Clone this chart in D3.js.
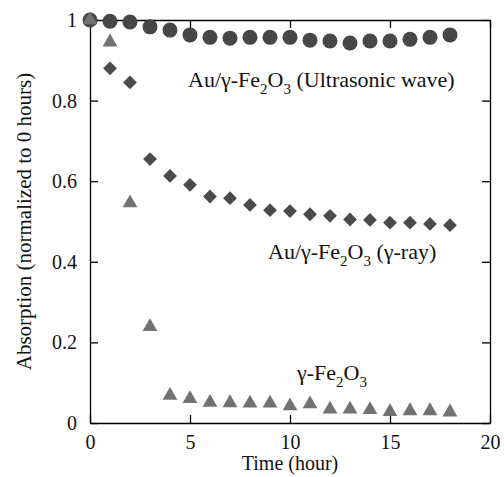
<!DOCTYPE html>
<html lang="en">
<head>
  <meta charset="UTF-8">
  <title>Absorption vs time</title>
  <script src="https://d3js.org/d3.v7.min.js"></script>
  <style>
    body {
      margin: 0;
      background: #ffffff;
    }
    svg {
      display: block;
      font-family: "Liberation Serif", "DejaVu Serif", "Times New Roman", serif;
    }
    .axis path, .axis line {
      stroke: #000;
      stroke-width: 1.3;
    }
    .axis text {
      font-family: "Liberation Serif", "DejaVu Serif", "Times New Roman", serif;
      font-size: 20px;
      fill: #111;
    }
    .label {
      fill: #111;
    }
  </style>
</head>
<body>
  <svg width="504" height="477"></svg>

  <script>
    // data
    const hours = d3.range(0, 19);
    const ultrasonic = [1.0, 0.997, 0.995, 0.983, 0.975, 0.963, 0.957, 0.955, 0.957, 0.957,
                        0.957, 0.950, 0.948, 0.943, 0.948, 0.948, 0.952, 0.957, 0.963];
    const gammaHours = d3.range(1, 19);
    const gammaRay = [0.880, 0.845, 0.655, 0.613, 0.591, 0.562, 0.558, 0.541, 0.528, 0.526,
                      0.518, 0.514, 0.505, 0.504, 0.497, 0.497, 0.494, 0.491];
    const bare = [1.0, 0.945, 0.546, 0.239, 0.068, 0.060, 0.051, 0.050, 0.049, 0.049,
                  0.042, 0.047, 0.034, 0.034, 0.033, 0.028, 0.030, 0.030, 0.027];
    const xTicks = [0, 5, 10, 15, 20];
    const yTicks = [0, 0.2, 0.4, 0.6, 0.8, 1];

    const svg = d3.select("svg");
    const margin = {left: 90, right: 14, top: 20, bottom: 54};
    const W = 504, H = 477;

    const x = d3.scaleLinear().domain([0, 20]).range([margin.left, W - margin.right]);
    const y = d3.scaleLinear().domain([0, 1]).range([H - margin.bottom, margin.top]);

    const fmt = d => Number.isInteger(d) ? String(d) : d.toFixed(1);

    // axes, ticks pointing inward
    svg.append("g").attr("class", "axis")
      .attr("transform", `translate(0,${y(0)})`)
      .call(d3.axisBottom(x).tickValues(xTicks).tickSizeInner(-8).tickSizeOuter(0).tickPadding(12).tickFormat(fmt));
    svg.append("g").attr("class", "axis")
      .attr("transform", `translate(0,${y(1)})`)
      .call(d3.axisTop(x).tickValues(xTicks).tickSizeInner(-8).tickSizeOuter(0).tickFormat(""));
    svg.append("g").attr("class", "axis")
      .attr("transform", `translate(${x(0)},0)`)
      .call(d3.axisLeft(y).tickValues(yTicks).tickSizeInner(-8).tickSizeOuter(0).tickPadding(13).tickFormat(fmt));
    svg.append("g").attr("class", "axis")
      .attr("transform", `translate(${x(20)},0)`)
      .call(d3.axisRight(y).tickValues(yTicks).tickSizeInner(-8).tickSizeOuter(0).tickFormat(""));

    // axis titles
    svg.append("text").attr("class", "label")
      .attr("x", (x(0) + x(20)) / 2).attr("y", 470)
      .attr("text-anchor", "middle")
      .style("font-size", "20px")
      .text("Time (hour)");
    svg.append("text").attr("class", "label")
      .attr("transform", `translate(31,${(y(0) + y(1)) / 2}) rotate(-90)`)
      .attr("text-anchor", "middle")
      .style("font-size", "21px")
      .text("Absorption (normalized to 0 hours)");

    // markers
    svg.append("g").selectAll("circle")
      .data(hours)
      .join("circle")
      .attr("cx", d => x(d))
      .attr("cy", (d, i) => y(ultrasonic[i]))
      .attr("r", 7.5)
      .attr("fill", "#474747");

    const diamond = d3.symbol().type(d3.symbolSquare).size(95);
    svg.append("g").selectAll("path")
      .data(gammaHours)
      .join("path")
      .attr("d", diamond)
      .attr("transform", (d, i) => `translate(${x(d)},${y(gammaRay[i])}) rotate(45)`)
      .attr("fill", "#4a4a4a");

    const tri = d3.symbol().type(d3.symbolTriangle).size(95);
    svg.append("g").selectAll("path")
      .data(hours)
      .join("path")
      .attr("d", tri)
      .attr("transform", (d, i) => `translate(${x(d)},${y(bare[i])})`)
      .attr("fill", "#727272");

    // series labels; [text, isSubscript] pairs
    function chemLabel(px, py, parts) {
      const t = svg.append("text").attr("class", "label").attr("x", px).attr("y", py)
        .style("font-size", "22px");
      let shift = 0;
      parts.forEach(([s, isSub]) => {
        const target = isSub ? 7 : 0;
        const span = t.append("tspan").attr("dy", target - shift).text(s);
        if (isSub) span.style("font-size", "15px");
        shift = target;
      });
    }
    chemLabel(188, 87, [["Au/γ-Fe"], ["2", true], ["O"], ["3", true], [" (Ultrasonic wave)"]]);
    chemLabel(268, 259, [["Au/γ-Fe"], ["2", true], ["O"], ["3", true], [" (γ-ray)"]]);
    chemLabel(297, 380, [["γ-Fe"], ["2", true], ["O"], ["3", true]]);
  </script>
</body>
</html>
